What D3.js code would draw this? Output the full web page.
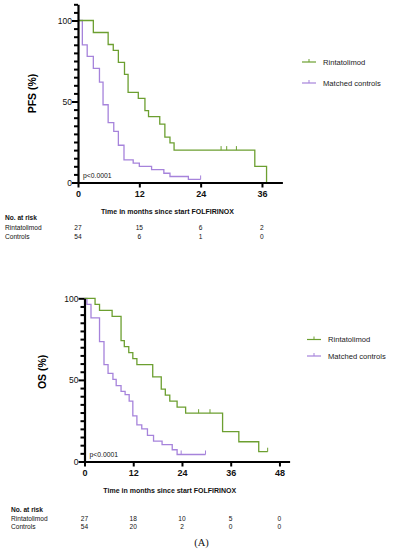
<!DOCTYPE html>
<html><head><meta charset="utf-8">
<script src="https://cdn.jsdelivr.net/npm/d3@7"></script>
<style>body{margin:0;background:#fff}svg{display:block;font-family:"Liberation Sans",Arial,sans-serif}</style>
</head><body><svg id="c" width="397" height="550"></svg>
<script>
// ---- PFS data ----
const pfsRintTimes = [0, 3.0, 5.9, 6.9, 7.9, 9.1, 9.8, 11.8, 13.1, 13.8, 16.0, 17.0, 18.0, 18.8, 34.6, 36.9];
const pfsRintSurv  = [100, 92.6, 85.2, 81.5, 74.1, 66.7, 55.6, 51.9, 44.4, 40.7, 36.0, 28.0, 24.5, 20.0, 10.0, 0];
const pfsRintEnd = 36.9;
const pfsRintCensor = [28.0, 29.1, 31.0];
const pfsCtrlTimes = [0, 0.85, 1.8, 3.0, 4.2, 4.9, 5.9, 7.0, 7.9, 9.0, 10.8, 12.0, 14.4, 16.8, 18.0, 21.6];
const pfsCtrlSurv  = [100, 85, 77.8, 70.4, 62, 48, 37, 31.5, 23, 14, 12, 10, 8, 5.7, 3.7, 1.9];
const pfsCtrlEnd = 24;
const pfsCtrlCensor = [24];
const pfsXTicks = [0, 12, 24, 36];
const pfsRiskRint = [27, 15, 6, 2];
const pfsRiskCtrl = [54, 6, 1, 0];

// ---- OS data ----
const osRintTimes = [0, 2.6, 3.7, 6.8, 9.0, 9.8, 10.9, 11.9, 12.9, 16.8, 18.9, 19.9, 21.0, 22.8, 24.9, 34.0, 38.0, 42.9];
const osRintSurv  = [100, 96.3, 92.6, 88.9, 74.1, 70.4, 66.7, 63.0, 59.3, 51.9, 44.4, 40.7, 37.0, 33.3, 29.6, 18.3, 12.1, 6.0];
const osRintEnd = 45.1;
const osRintCensor = [28.1, 30.9, 45.1];
const osCtrlTimes = [0, 0.6, 1.6, 3.7, 4.8, 5.8, 7.0, 7.8, 9.0, 10.0, 11.0, 11.9, 12.9, 14.1, 15.5, 17.0, 19.1, 21.6, 22.8];
const osCtrlSurv  = [100, 96.3, 88, 73.5, 59.3, 54, 50.3, 46.5, 43, 41, 37, 28, 22.5, 20, 16, 12.5, 10.3, 7.2, 4.3];
const osCtrlEnd = 29.8;
const osCtrlCensor = [23.8, 29.8];
const osXTicks = [0, 12, 24, 36, 48];
const osRiskRint = [27, 18, 10, 5, 0];
const osRiskCtrl = [54, 20, 2, 0, 0];

const seriesNames = ["Rintatolimod", "Matched controls"];
const riskNames = ["Rintatolimod", "Controls"];
const GREEN = "#6c9f30", PURPLE = "#a683db";

const svg = d3.select("#c");

function panel(o){
  const g = svg.append("g");
  const x = d3.scaleLinear().domain([0, o.xMax]).range([o.x0, o.x1]);
  const y = d3.scaleLinear().domain([0, 100]).range([o.y0, o.y1]);
  const line = d3.line().x(d=>x(d[0])).y(d=>y(d[1])).curve(d3.curveStepAfter);
  function curve(times, surv, end, censor, color){
    const pts = times.map((t,i)=>[t, surv[i]]);
    pts.push([end, surv[surv.length-1]]);
    g.append("path").attr("d", line(pts)).attr("fill","none").attr("stroke",color).attr("stroke-width",1.3);
    censor.forEach(c=>{
      let s = surv[0];
      times.forEach((t,i)=>{ if(t<=c) s = surv[i]; });
      g.append("line").attr("x1",x(c)).attr("x2",x(c)).attr("y1",y(s)).attr("y2",y(s)-4)
        .attr("stroke",color).attr("stroke-width",1);
    });
  }
  curve(o.ctrlT, o.ctrlS, o.ctrlEnd, o.ctrlC, PURPLE);
  curve(o.rintT, o.rintS, o.rintEnd, o.rintC, GREEN);

  // y axis
  const yAx = d3.scaleLinear().domain([0, o.yTop]).range([o.y0, o.y0 - (o.y0-o.y1)*o.yTop/100]);
  const ya = g.append("g").attr("transform",`translate(${o.x0},0)`)
    .call(d3.axisLeft(yAx).tickValues(d3.range(0, o.yTop+0.1, 5)).tickSize(4).tickSizeOuter(0).tickFormat(d=> d%50===0 ? d : ""));
  ya.select(".domain").attr("stroke","#000").attr("stroke-width",2.2);
  ya.selectAll(".tick line").attr("stroke","#000").attr("stroke-width",2)
    .attr("x2", d=> d%50===0 ? -6 : -4);
  ya.selectAll(".tick text").attr("font-size",8.5).attr("fill","#111").attr("x",-6).attr("font-family","Liberation Sans, Arial");
  // x axis
  const xa = g.append("g").attr("transform",`translate(0,${o.y0})`)
    .call(d3.axisBottom(x).tickValues(o.xTicks).tickSize(5).tickSizeOuter(0));
  xa.select(".domain").attr("stroke","#000").attr("stroke-width",2.2);
  xa.selectAll(".tick line").attr("stroke","#000").attr("stroke-width",2);
  xa.selectAll(".tick text").attr("font-size",9).attr("font-weight","bold").attr("fill","#111").attr("y",8).attr("font-family","Liberation Sans, Arial");

  g.append("text").attr("transform",`translate(${o.ylabX},${(o.y0+o.y1)/2 - 8}) rotate(-90)`)
    .attr("text-anchor","middle").attr("font-size",10.5).attr("font-weight","bold").text(o.ylab);
  g.append("text").attr("x", o.x0+5).attr("y", o.y0-5).attr("font-size",6.8).attr("fill","#111").text("p<0.0001");
  g.append("text").attr("x",(x(0)+x(o.titleCenterT))/2).attr("y",o.y0+31).attr("text-anchor","middle")
    .attr("font-size",7).attr("font-weight","bold").attr("fill","#111").text("Time in months since start FOLFIRINOX");
  [GREEN, PURPLE].forEach((c,i)=>{
    const ly = o.legY + i*o.legGap;
    g.append("line").attr("x1",o.legX).attr("x2",o.legX+14).attr("y1",ly).attr("y2",ly).attr("stroke",c).attr("stroke-width",1.2);
    g.append("line").attr("x1",o.legX+7).attr("x2",o.legX+7).attr("y1",ly).attr("y2",ly-3).attr("stroke",c).attr("stroke-width",1);
    g.append("text").attr("x",o.legX+21).attr("y",ly+2.6).attr("font-size",7.6).attr("fill","#222").text(seriesNames[i]);
  });
  const ry = o.riskY;
  g.append("text").attr("x",o.riskLabX).attr("y",ry).attr("font-size",6.6).attr("font-weight","bold").attr("fill","#111").text("No. at risk");
  g.append("text").attr("x",o.riskLabX).attr("y",ry+o.riskGap).attr("font-size",6.6).attr("fill","#111").text(riskNames[0]);
  g.append("text").attr("x",o.riskLabX).attr("y",ry+2*o.riskGap).attr("font-size",6.6).attr("fill","#111").text(riskNames[1]);
  o.xTicks.forEach((t,i)=>{
    g.append("text").attr("x",x(t)).attr("y",ry+o.riskGap).attr("text-anchor","middle").attr("font-size",6.6).attr("fill","#111").text(o.riskR[i]);
    g.append("text").attr("x",x(t)).attr("y",ry+2*o.riskGap).attr("text-anchor","middle").attr("font-size",6.6).attr("fill","#111").text(o.riskC[i]);
  });
}

panel({x0:78, x1:282.4, xMax:40, y0:182.5, y1:20.5, yTop:110, xTicks:pfsXTicks,
  rintT:pfsRintTimes, rintS:pfsRintSurv, rintEnd:pfsRintEnd, rintC:pfsRintCensor,
  ctrlT:pfsCtrlTimes, ctrlS:pfsCtrlSurv, ctrlEnd:pfsCtrlEnd, ctrlC:pfsCtrlCensor,
  ylab:"PFS (%)", ylabX:36, titleCenterT:35, legX:302, legY:62, legGap:21,
  riskY:220, riskGap:9.5, riskLabX:5, riskR:pfsRiskRint, riskC:pfsRiskCtrl});

panel({x0:84.5, x1:289.6, xMax:50.5, y0:461.5, y1:298.3, yTop:100, xTicks:osXTicks,
  rintT:osRintTimes, rintS:osRintSurv, rintEnd:osRintEnd, rintC:osRintCensor,
  ctrlT:osCtrlTimes, ctrlS:osCtrlSurv, ctrlEnd:osCtrlEnd, ctrlC:osCtrlCensor,
  ylab:"OS (%)", ylabX:46, titleCenterT:42, legX:307, legY:339.5, legGap:16.5,
  riskY:512, riskGap:8.5, riskLabX:11, riskR:osRiskRint, riskC:osRiskCtrl});

svg.append("text").attr("x",201.5).attr("y",546).attr("text-anchor","middle")
  .attr("font-family","Liberation Serif, Times New Roman, serif").attr("font-size",10.5).attr("fill","#111").text("(A)");
</script></body></html>
